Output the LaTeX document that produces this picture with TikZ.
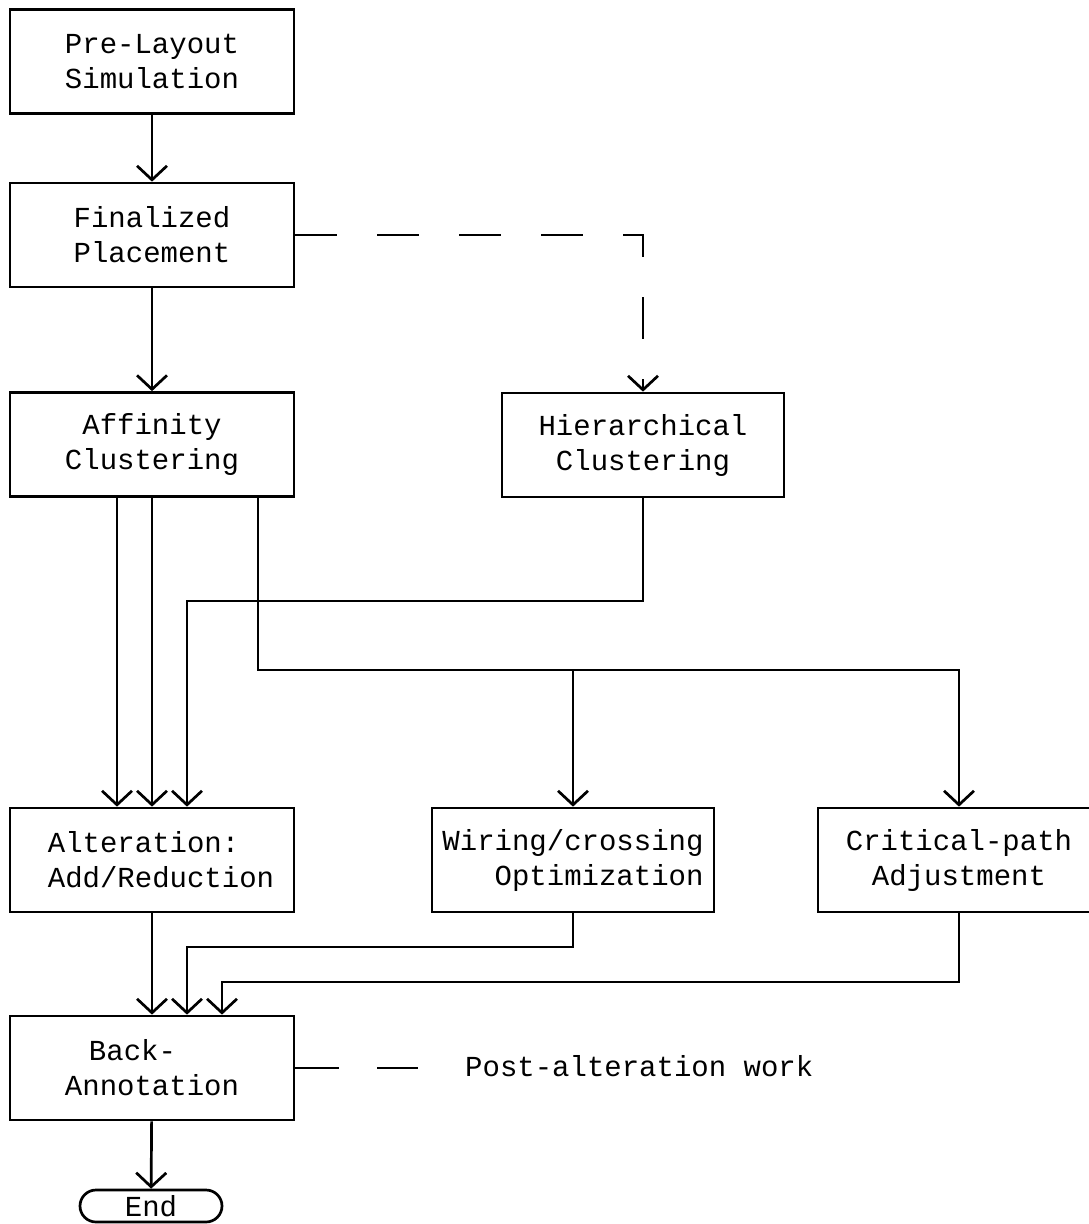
\documentclass[tikz,border=0pt]{standalone}
\usepackage{fontspec}
\setmonofont{Liberation Mono}
\usetikzlibrary{arrows.meta}
\newcommand{\plotfont}{\ttfamily\fontsize{29}{35}\selectfont}
\begin{document}
\begin{tikzpicture}[x=1pt,y=-1pt,
  ln/.style={line width=2.7pt},
  box/.style={ln, draw, minimum height=104pt, minimum width=284pt, align=center, font=\plotfont, inner sep=0pt},
  arr/.style={ln, -{Straight Barb[length=14pt,width=30pt]}},
  dsh/.style={arr, dash pattern=on 42pt off 40pt},
  plain/.style={ln}]
\fill[white] (0,0) rectangle (1088,1224);
\useasboundingbox (0,0) rectangle (1088,1224);

\node[box] (pre) at (152,61.5) {Pre-Layout\\Simulation};
\node[box] (fin) at (152,235) {Finalized\\Placement};
\node[box] (aff) at (152,444.5) {Affinity\\Clustering};
\node[box, minimum width=282pt] (hier) at (643,445) {Hierarchical\\Clustering};
\node[box, align=left] (alt) at (152,860) {\hspace*{18pt}Alteration:\\\hspace*{18pt}Add/Reduction};
\node[box, minimum width=282pt, align=right] (wir) at (573,860) {Wiring/crossing\\Optimization};
\node[box, minimum width=282pt] (crit) at (959,860) {Critical-path\\Adjustment};
\node[box, align=left] (back) at (152,1068) {\hspace*{24pt}Back-\\Annotation};
\node[ln, draw, rounded corners=16pt, minimum width=142pt, minimum height=32pt, inner sep=0pt, font=\plotfont] (end) at (151,1206) {End};
\node[anchor=west, font=\plotfont, inner sep=0pt] (post) at (465,1066) {Post-alteration work};
\coordinate (pe) at (418,1068);

\draw[arr] (pre) -- (fin);
\draw[arr] (fin) -- (aff);
\draw[dsh] (fin.east) -| (hier.north);

\draw[arr] ([xshift=-35pt]aff.south) -- ([xshift=-35pt]alt.north);
\draw[arr] (aff.south) -- (alt.north);
\draw[arr] (hier.south) |- ([xshift=35pt]alt.north |- 0,601) -- ([xshift=35pt]alt.north);
\draw[arr] ([xshift=106pt]aff.south) |- (crit.north |- 0,670) -- (crit.north);
\draw[arr] (wir.north |- 0,670) -- (wir.north);

\draw[arr] (alt) -- (back);
\draw[arr] (wir.south) |- ([xshift=35pt]back.north |- 0,947) -- ([xshift=35pt]back.north);
\draw[arr] (crit.south) |- ([xshift=70pt]back.north |- 0,982) -- ([xshift=70pt]back.north);
\draw[arr] (back) -- (end);

\draw[plain, dash pattern=on 44pt off 38pt] (back.east) -- (pe);
\end{tikzpicture}
\end{document}
